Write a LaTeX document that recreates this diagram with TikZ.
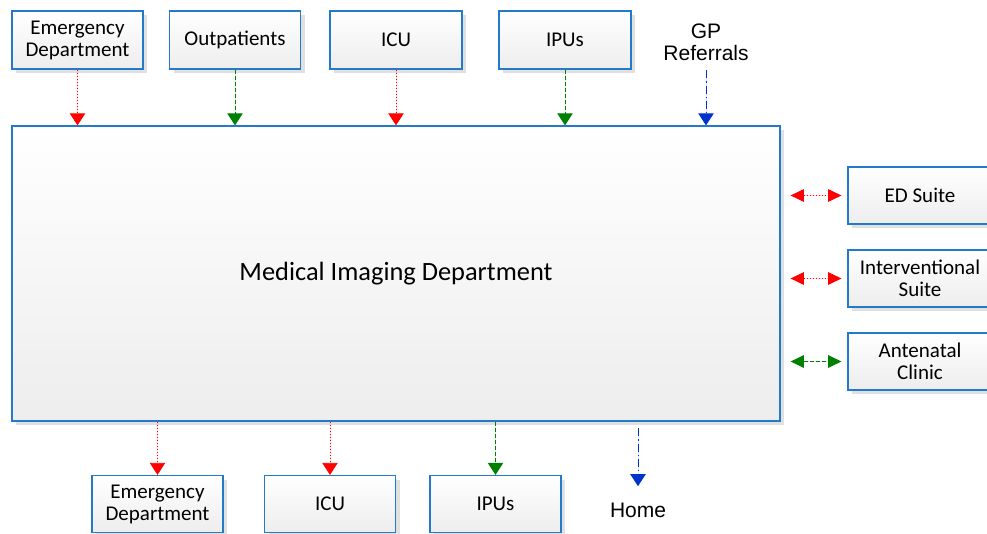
\documentclass[tikz,border=0pt]{standalone}
\usepackage{fontspec}
\setmainfont{Carlito}
\newfontfamily\arialfont{Liberation Sans}
\usetikzlibrary{arrows.meta,shadows}

\definecolor{boxblue}{RGB}{36,122,202}
\definecolor{flowred}{RGB}{255,0,0}
\definecolor{flowgreen}{RGB}{0,128,0}
\definecolor{flowblue}{RGB}{0,51,204}

\tikzset{every picture/.style={line width=0.75pt}}
\tikzset{
  unitbox/.style={draw=boxblue, line width=0.9pt, top color=white, bottom color=black!7,
    minimum width=98.25pt, minimum height=43.5pt, inner sep=0pt, align=center,
    font=\fontsize{15.75}{16.5}\selectfont,
    drop shadow={shadow xshift=3pt, shadow yshift=-3pt, fill=black!12, opacity=1}},
  plaintext/.style={inner sep=0pt, align=center, font=\arialfont\fontsize{15.75}{16.5}\selectfont},
  tip/.style={-{Triangle[width=11.5pt,length=9pt]}},
  redflow/.style={tip, draw=flowred, fill=flowred, line width=0.6pt, dash pattern={on 0.75pt off 1.5pt}},
  greenflow/.style={tip, draw=flowgreen, fill=flowgreen, line width=0.75pt, dash pattern={on 3pt off 1.5pt}},
  blueflow/.style={tip, draw=flowblue, fill=flowblue, line width=0.75pt, dash pattern={on 6pt off 2.25pt on 1pt off 2.25pt}},
  both/.style={{Triangle[width=9.5pt,length=10pt]}-{Triangle[width=9.5pt,length=10pt]}},
}

\begin{document}
\begin{tikzpicture}[x=0.75pt,y=0.75pt,yscale=-1,xscale=1]
\useasboundingbox (0,0) rectangle (987,534);
\clip (0,0) rectangle (987,534);

% main department
\draw (396,273.5) node [unitbox, minimum width=576pt, minimum height=221.25pt, font=\fontsize{19.8}{22}\selectfont] (main) {Medical Imaging Department};

% sources
\draw (77.5,40) node [unitbox] (edin) {Emergency\\Department};
\draw (235,40) node [unitbox] (outp) {Outpatients};
\draw (396,40) node [unitbox, minimum width=99pt] (icuin) {ICU};
\draw (565,40) node [unitbox, minimum width=99pt] (ipuin) {IPUs};
\draw (706,42) node [plaintext] (gp) {GP\\Referrals};

\draw [redflow] (edin) -- (edin |- main.north);
\draw [greenflow] (outp) -- (outp |- main.north);
\draw [redflow] (icuin) -- (icuin |- main.north);
\draw [greenflow] (ipuin) -- (ipuin |- main.north);
\draw [blueflow, shorten <=7pt] (gp) -- (gp |- main.north);

% suites
\draw (920,195.5) node [unitbox, minimum width=108pt, minimum height=42.75pt] (edsuite) {ED Suite};
\draw (920,278.5) node [unitbox, minimum width=108pt, minimum height=42.75pt] (intsuite) {Interventional\\Suite};
\draw (920,361.5) node [unitbox, minimum width=108pt, minimum height=42.75pt] (antenatal) {Antenatal\\Clinic};

\draw [redflow, both, shorten <=7.5pt, shorten >=4.5pt] (main.east |- edsuite) -- (edsuite);
\draw [redflow, both, shorten <=7.5pt, shorten >=4.5pt] (main.east |- intsuite) -- (intsuite);
\draw [greenflow, both, shorten <=7.5pt, shorten >=4.5pt] (main.east |- antenatal) -- (antenatal);

% destinations
\draw (157.5,504) node [unitbox, minimum height=42.75pt] (edout) {Emergency\\Department};
\draw (330,504) node [unitbox, minimum height=42.75pt] (icuout) {ICU};
\draw (495.5,504) node [unitbox, minimum height=42.75pt] (ipuout) {IPUs};
\draw (638,510) node [plaintext] (home) {Home};

\draw [redflow] (main.south -| edout) -- (edout);
\draw [redflow] (main.south -| icuout) -- (icuout);
\draw [greenflow] (main.south -| ipuout) -- (ipuout);
\draw [blueflow, shorten <=5pt, shorten >=12pt] (main.south -| home) -- (home);

\end{tikzpicture}
\end{document}
